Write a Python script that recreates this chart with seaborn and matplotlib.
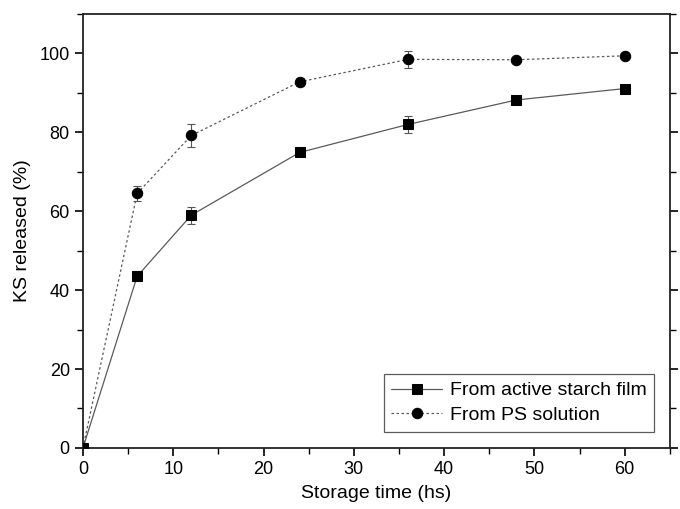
import matplotlib
matplotlib.use("Agg")
import matplotlib.pyplot as plt
from matplotlib.ticker import MultipleLocator
import seaborn as sns
import pandas as pd
import numpy as np

time_h = [0, 6, 12, 24, 36, 48, 60]
film_vals = [0, 43.5, 59.0, 74.9, 82.0, 88.2, 91.1]
film_err = [0, 1.3, 2.2, 0.6, 2.2, 0.5, 0.5]
ps_vals = [0, 64.5, 79.2, 92.8, 98.5, 98.4, 99.4]
ps_err = [0, 2.0, 3.0, 1.1, 2.1, 0.5, 0.5]
labels = ["From active starch film", "From PS solution"]

sns.set_theme(style="ticks")
plt.rcParams['font.family'] = ['Liberation Sans', 'DejaVu Sans']
plt.rcParams['text.color'] = 'black'
plt.rcParams['axes.labelcolor'] = 'black'

df = pd.DataFrame({
    "time": time_h * 2,
    "val": film_vals + ps_vals,
    "series": [labels[0]] * len(time_h) + [labels[1]] * len(time_h),
})

fig = plt.figure(figsize=(6.8, 5.09), dpi=100)
ax = fig.add_axes([0.122, 0.12, 0.863, 0.8525])

ax.errorbar(time_h, film_vals, yerr=film_err, fmt='none', ecolor='#555555',
            elinewidth=0.8, capsize=3, capthick=0.8, zorder=2)
ax.errorbar(time_h, ps_vals, yerr=ps_err, fmt='none', ecolor='#555555',
            elinewidth=0.8, capsize=3, capthick=0.8, zorder=2)

sns.lineplot(data=df, x="time", y="val", hue="series", style="series",
             palette={labels[0]: '#5a5a5a', labels[1]: '#5a5a5a'},
             dashes={labels[0]: (None, None), labels[1]: (2, 2)},
             markers={labels[0]: 's', labels[1]: 'o'},
             markersize=7.5, markerfacecolor='black', markeredgecolor='black',
             linewidth=0.9, ax=ax, zorder=3)

ax.set_xlim(0, 65)
ax.set_ylim(0, 110)
ax.xaxis.set_major_locator(MultipleLocator(10))
ax.xaxis.set_minor_locator(MultipleLocator(5))
ax.yaxis.set_major_locator(MultipleLocator(20))
ax.yaxis.set_minor_locator(MultipleLocator(10))
ax.tick_params(axis='both', which='major', direction='out', length=6, width=1.2,
               labelsize=13, colors='black', left=True, right=True, bottom=True, top=False)
ax.tick_params(axis='both', which='minor', direction='out', length=4, width=1.0,
               colors='black', left=True, right=True, bottom=True, top=False)
for s in ax.spines.values():
    s.set_visible(True)
    s.set_linewidth(1.3)
    s.set_color('#222222')

ax.set_xlabel("Storage time (hs)", fontsize=14, labelpad=5, color='black')
ax.set_ylabel("KS released (%)", fontsize=14, labelpad=6, color='black')

leg = ax.legend(loc='lower right', bbox_to_anchor=(0.99, 0.015), fontsize=14,
                frameon=True, fancybox=False, edgecolor='#333333',
                handlelength=2.6, borderpad=0.4, labelspacing=0.35, handletextpad=0.4)
leg.get_frame().set_linewidth(0.9)
for t in leg.get_texts():
    t.set_color('black')
for h in leg.legend_handles:
    h.set_markerfacecolor('black')
    h.set_markeredgecolor('black')

fig.savefig("out.png", dpi=100)
